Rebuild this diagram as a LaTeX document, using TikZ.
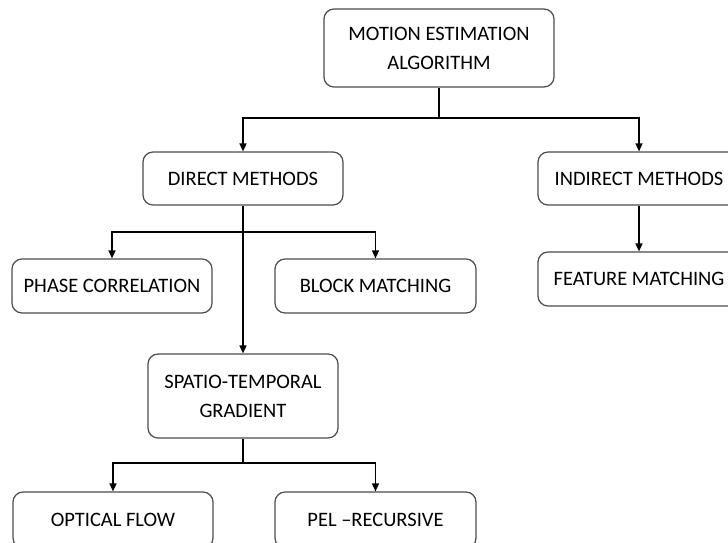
\documentclass[tikz,border=0pt]{standalone}
\usepackage{fontspec}
\setmainfont{Carlito}
\usetikzlibrary{arrows.meta}
\begin{document}
\begin{tikzpicture}[x=1pt,y=-1pt,
  box/.style={draw=black!70,line width=1.2pt,rounded corners=10pt,fill=white,
    align=center,inner sep=0pt,font=\fontsize{20.5}{29}\selectfont},
  conn/.style={line width=1.5pt,black},
  arr/.style={conn,-{Triangle[length=8pt,width=7pt]}}]
\useasboundingbox (0,0) rectangle (728,542);
\clip (0,0) rectangle (728,542);
\fill[white] (0,0) rectangle (728,542);
\node[box,minimum width=230pt,minimum height=78pt] (top) at (439,48) {MOTION ESTIMATION\\ALGORITHM};
\node[box,minimum width=200pt,minimum height=53pt] (direct) at (243,178.5) {DIRECT METHODS};
\node[box,minimum width=202pt,minimum height=53pt] (indirect) at (639,178.5) {INDIRECT METHODS};
\node[box,minimum width=200pt,minimum height=54pt] (phase) at (112,286) {PHASE CORRELATION};
\node[box,minimum width=201pt,minimum height=54pt] (block) at (375.5,286) {BLOCK MATCHING};
\node[box,minimum width=202pt,minimum height=54pt] (feature) at (639,279) {FEATURE MATCHING};
\node[box,minimum width=190pt,minimum height=84pt] (spatio) at (243,396) {SPATIO-TEMPORAL\\GRADIENT};
\node[box,minimum width=200pt,minimum height=56pt] (optical) at (113,520) {OPTICAL FLOW};
\node[box,minimum width=201pt,minimum height=56pt] (pel) at (375.5,520) {PEL –RECURSIVE};
\coordinate (j1) at (439,118);
\coordinate (j2) at (243,232);
\coordinate (j3) at (243,463);
\draw[conn] (top) -- (j1);
\draw[arr] (j1) -| (direct);
\draw[arr] (j1) -| (indirect);
\draw[arr] (indirect) -- (feature);
\draw[arr] (direct) -- (spatio);
\draw[arr] (j2) -| (phase);
\draw[arr] (j2) -| (block);
\draw[conn] (spatio) -- (j3);
\draw[arr] (j3) -| (optical);
\draw[arr] (j3) -| (pel);
\end{tikzpicture}
\end{document}
